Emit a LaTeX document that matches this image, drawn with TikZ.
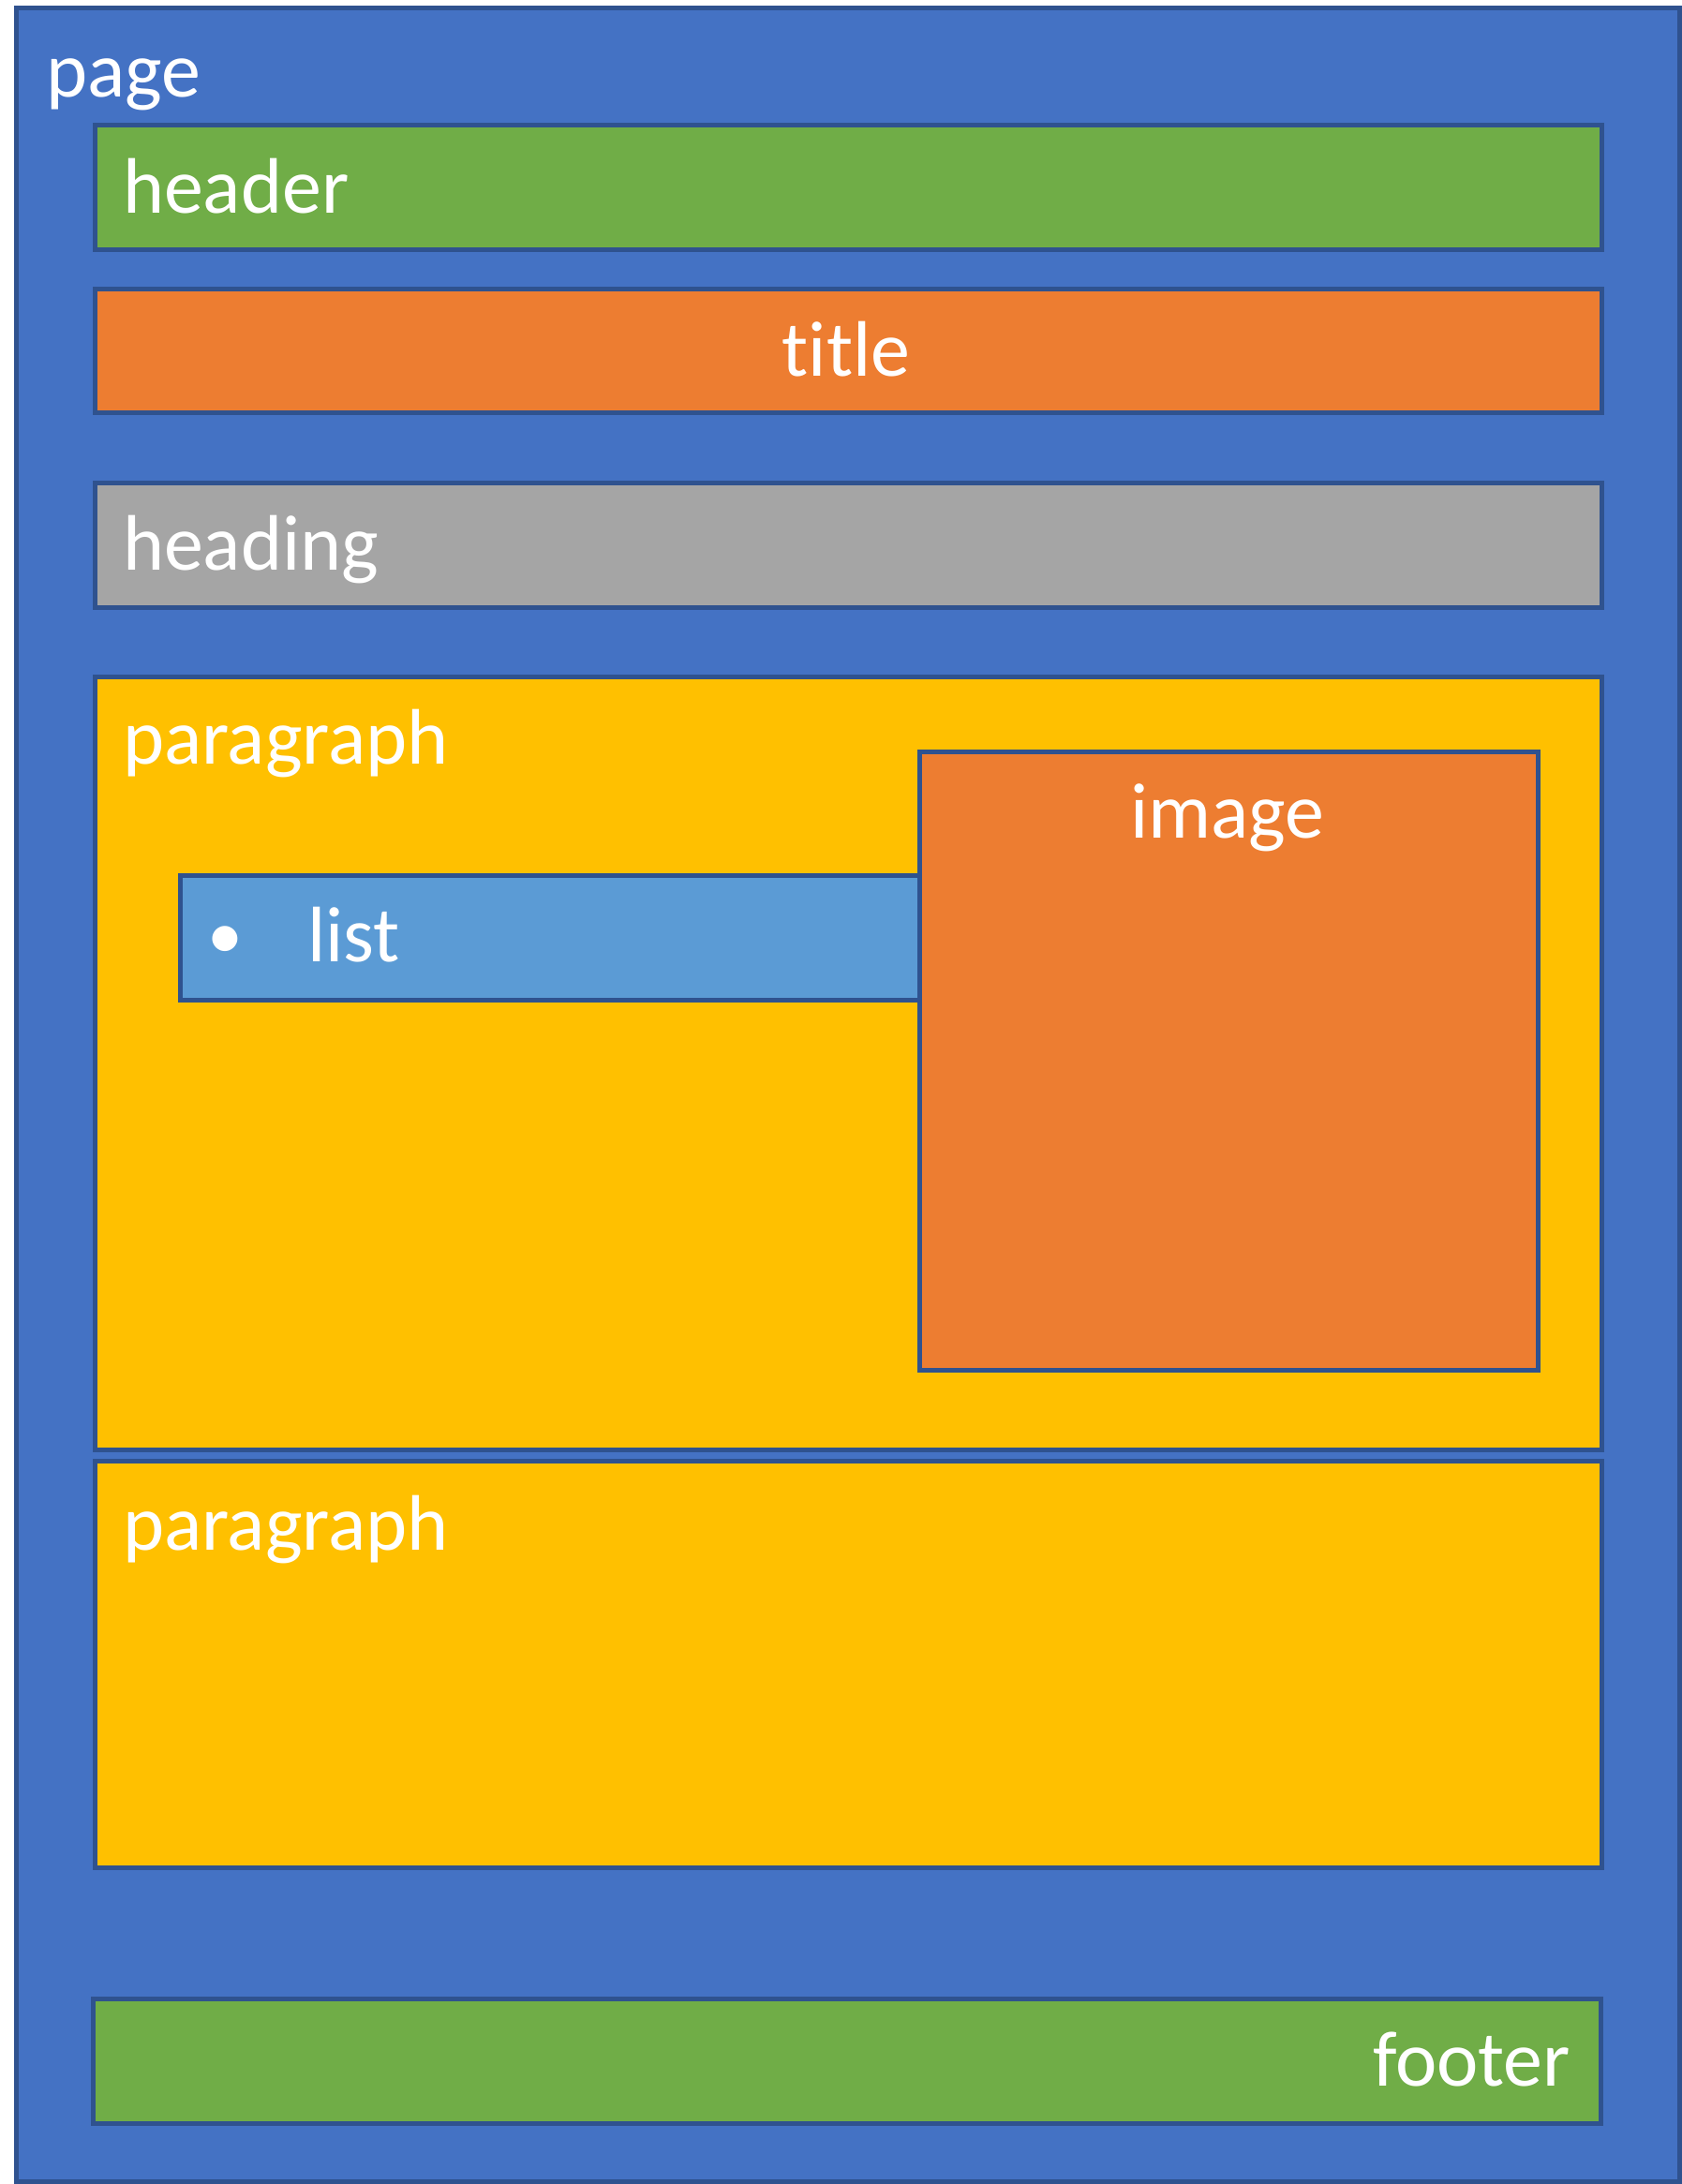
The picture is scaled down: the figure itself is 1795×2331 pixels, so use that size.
\documentclass[tikz,border=0pt]{standalone}
\usepackage{fontspec}
\setmainfont{Carlito}[Ligatures={NoCommon}]
\definecolor{pageblue}{HTML}{4472C4}
\definecolor{edgeblue}{HTML}{2F528F}
\definecolor{hgreen}{HTML}{70AD47}
\definecolor{torange}{HTML}{ED7D31}
\definecolor{hgray}{HTML}{A5A5A5}
\definecolor{pyellow}{HTML}{FFC000}
\definecolor{lblue}{HTML}{5B9BD5}
\begin{document}
\begin{tikzpicture}[x=0.5pt,y=-0.5pt,
  box/.style={rectangle, draw=edgeblue, line width=2.5pt, inner sep=0pt, outer sep=0pt},
  wide/.style={box, minimum width=804pt, minimum height=66.25pt},
  lbl/.style={text=white, font=\fontsize{42}{50}\selectfont, inner sep=0pt, outer sep=0pt}]
\useasboundingbox (0,0) rectangle (1795,2331);
% page
\node[box, fill=pageblue, minimum width=887.5pt, minimum height=1160pt] (page) at (905,1168.5) {};
\node[lbl, anchor=base west] (pagetext) at (49,103) {page};
% header
\node[wide, fill=hgreen] (header) at (905,199.75) {};
\node[lbl, anchor=base west] (headertext) at (131,227) {header};
% title
\node[wide, fill=torange] (title) at (905,374.25) {};
\node[lbl, anchor=base] (titletext) at (903,401) {title};
% heading
\node[wide, fill=hgray] (heading) at (905,582) {};
\node[lbl, anchor=base west] (headingtext) at (131,608) {heading};
% paragraph 1
\node[box, fill=pyellow, minimum width=804pt, minimum height=412.35pt] (para1) at (905,1135.15) {};
\node[lbl, anchor=base west] (para1text) at (131,815) {paragraph};
% list
\node[box, fill=lblue, minimum width=394.25pt, minimum height=66.25pt] (list) at (586.75,1000.75) {};
\node[lbl, anchor=base, font=\fontsize{38}{46}\selectfont] (bullet) at (240,1023) {•};
\node[lbl, anchor=base west] (listtext) at (328,1026) {list};
% image
\node[box, fill=torange, minimum width=330pt, minimum height=330pt] (image) at (1311,1132.5) {};
\node[lbl, anchor=base] (imagetext) at (1310,894) {image};
% paragraph 2
\node[box, fill=pyellow, minimum width=804pt, minimum height=216.75pt] (para2) at (905,1776.25) {};
\node[lbl, anchor=base west] (para2text) at (131,1654) {paragraph};
% footer
\node[box, fill=hgreen, minimum width=804.5pt, minimum height=66.25pt] (footer) at (904,2199.75) {};
\node[lbl, anchor=base east] (footertext) at (1676,2226) {footer};
\end{tikzpicture}
\end{document}
